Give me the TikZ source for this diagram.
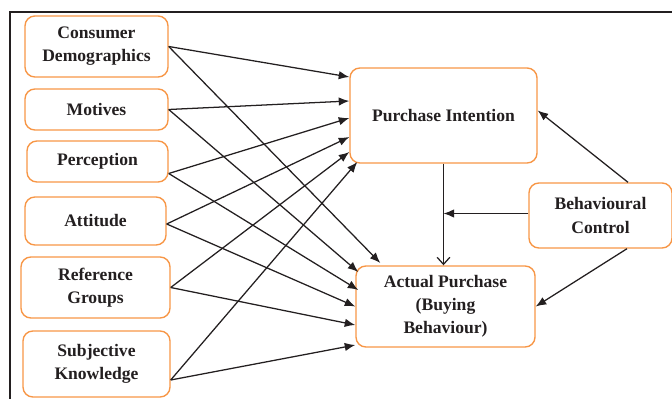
\documentclass[tikz,border=0pt]{standalone}
\usepackage{fontspec}
\setmainfont{Liberation Serif}
\usetikzlibrary{arrows.meta,calc}

\definecolor{boxorange}{HTML}{F79646}
\definecolor{linegray}{HTML}{231F20}

\tikzset{
	factor/.style={draw=boxorange, line width=1pt, rounded corners=7pt, align=center,
		font=\fontsize{12.5}{16.5}\selectfont\bfseries, text=linegray, inner sep=0pt},
	link/.style={draw=linegray, line width=0.9pt, -{Latex[length=7.5pt,width=6pt]}},
	openlink/.style={draw=linegray, line width=0.9pt, -{Straight Barb[length=5pt,width=9pt]}}
}

\begin{document}
\begin{tikzpicture}[x=0.025cm, y=-0.025cm]

	%all positions are in pixels of the original figure, y grows downwards
	\def\px{0.025cm}
	\useasboundingbox (0,0) rectangle (672,399);

	%frame, only its top and left edges are inside the picture
	\draw [linegray, line width=1.1pt] (672,12) -- (10,12) -- (10,399);

	%factors on the left
	\foreach \name/\txt/\xc/\yc/\w/\h in {cd/{Consumer\\Demographics}/96.5/46.5/143/61,
		mot/Motives/96.5/109.5/143/41, perc/Perception/97.5/161.5/141/41,
		att/Attitude/95.5/221/141/48, ref/{Reference\\Groups}/95.5/287.5/149/61,
		subj/{Subjective\\Knowledge}/96.5/364/147/66}
	{
		\node [factor, minimum width=\w*\px, minimum height=\h*\px] (\name) at (\xc,\yc) {\txt};
	}

	%outcomes and control
	\node [factor, minimum width=187*\px, minimum height=95*\px] (pi) at (443.5,115.5) {Purchase Intention};
	\node [factor, minimum width=179*\px, minimum height=81*\px] (ap) at (445.5,306.5) {Actual Purchase\\(Buying\\Behaviour)};
	\node [factor, minimum width=143*\px, minimum height=65*\px] (bc) at (600.5,215.5) {Behavioural\\Control};

	%every factor points to both outcomes
	\foreach \src/\sy/\pix/\piy/\apx/\apy in {cd/0/0/-38.5/25/-43.5, mot/0/0/-14.5/3/-34.5,
		perc/12/0/2.5/3/-16.5, att/3/0/21.5/0/0, ref/0/0/36.5/0/18.5, subj/16/8/46.5/0/38.5}
	{
		\draw [link] ($(\src.east)+(0,\sy)$) -- ($(pi.west)+(\pix,\piy)$);
		\draw [link] ($(\src.east)+(0,\sy)$) -- ($(ap.west)+(\apx,\apy)$);
	}

	%Arrows of the control
	\coordinate (bcLeft) at ($(bc.west)+(0,-2)$);
	\draw [link] ($(bc.north)+(27.5,0)$) -- ($(pi.east)+(0,-5)$);
	\draw [link] (bcLeft) -- (bcLeft -| pi.south);
	\draw [link] ($(bc.south)+(26.5,0)$) -- (ap.east);
	\draw [openlink] (pi.south) -- (pi.south |- ap.north);

\end{tikzpicture}
\end{document}
